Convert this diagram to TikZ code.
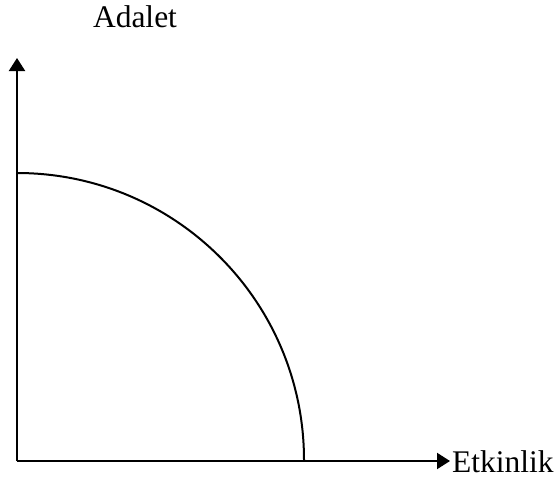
\documentclass[tikz,border=0pt]{standalone}
\usepackage{fontspec}
\setmainfont{Liberation Serif}
\usetikzlibrary{arrows.meta}
\begin{document}
\begin{tikzpicture}[x=1pt,y=-1pt,
  axis/.style={line width=2pt,-{Triangle[length=13pt,width=16pt]}},
  curve/.style={line width=2pt},
  lbl/.style={inner sep=0pt,font=\fontsize{31.5}{36}\selectfont}]
\useasboundingbox (0,0) rectangle (556,479);
\coordinate (O) at (17,461);
\coordinate (Ytop) at (17,58);
\coordinate (Xend) at (450,461);
\coordinate (A) at (17,173);
\node[lbl,anchor=base] (adalet) at (135,27) {Adalet};
\node[lbl,anchor=base west] (etk) at (452,472) {Etkinlik};
\draw[axis] (O) -- (Ytop);
\draw[axis] (O) -- (Xend);
\draw[curve] (A) arc[start angle=-90,end angle=0,radius=287];
\end{tikzpicture}
\end{document}
